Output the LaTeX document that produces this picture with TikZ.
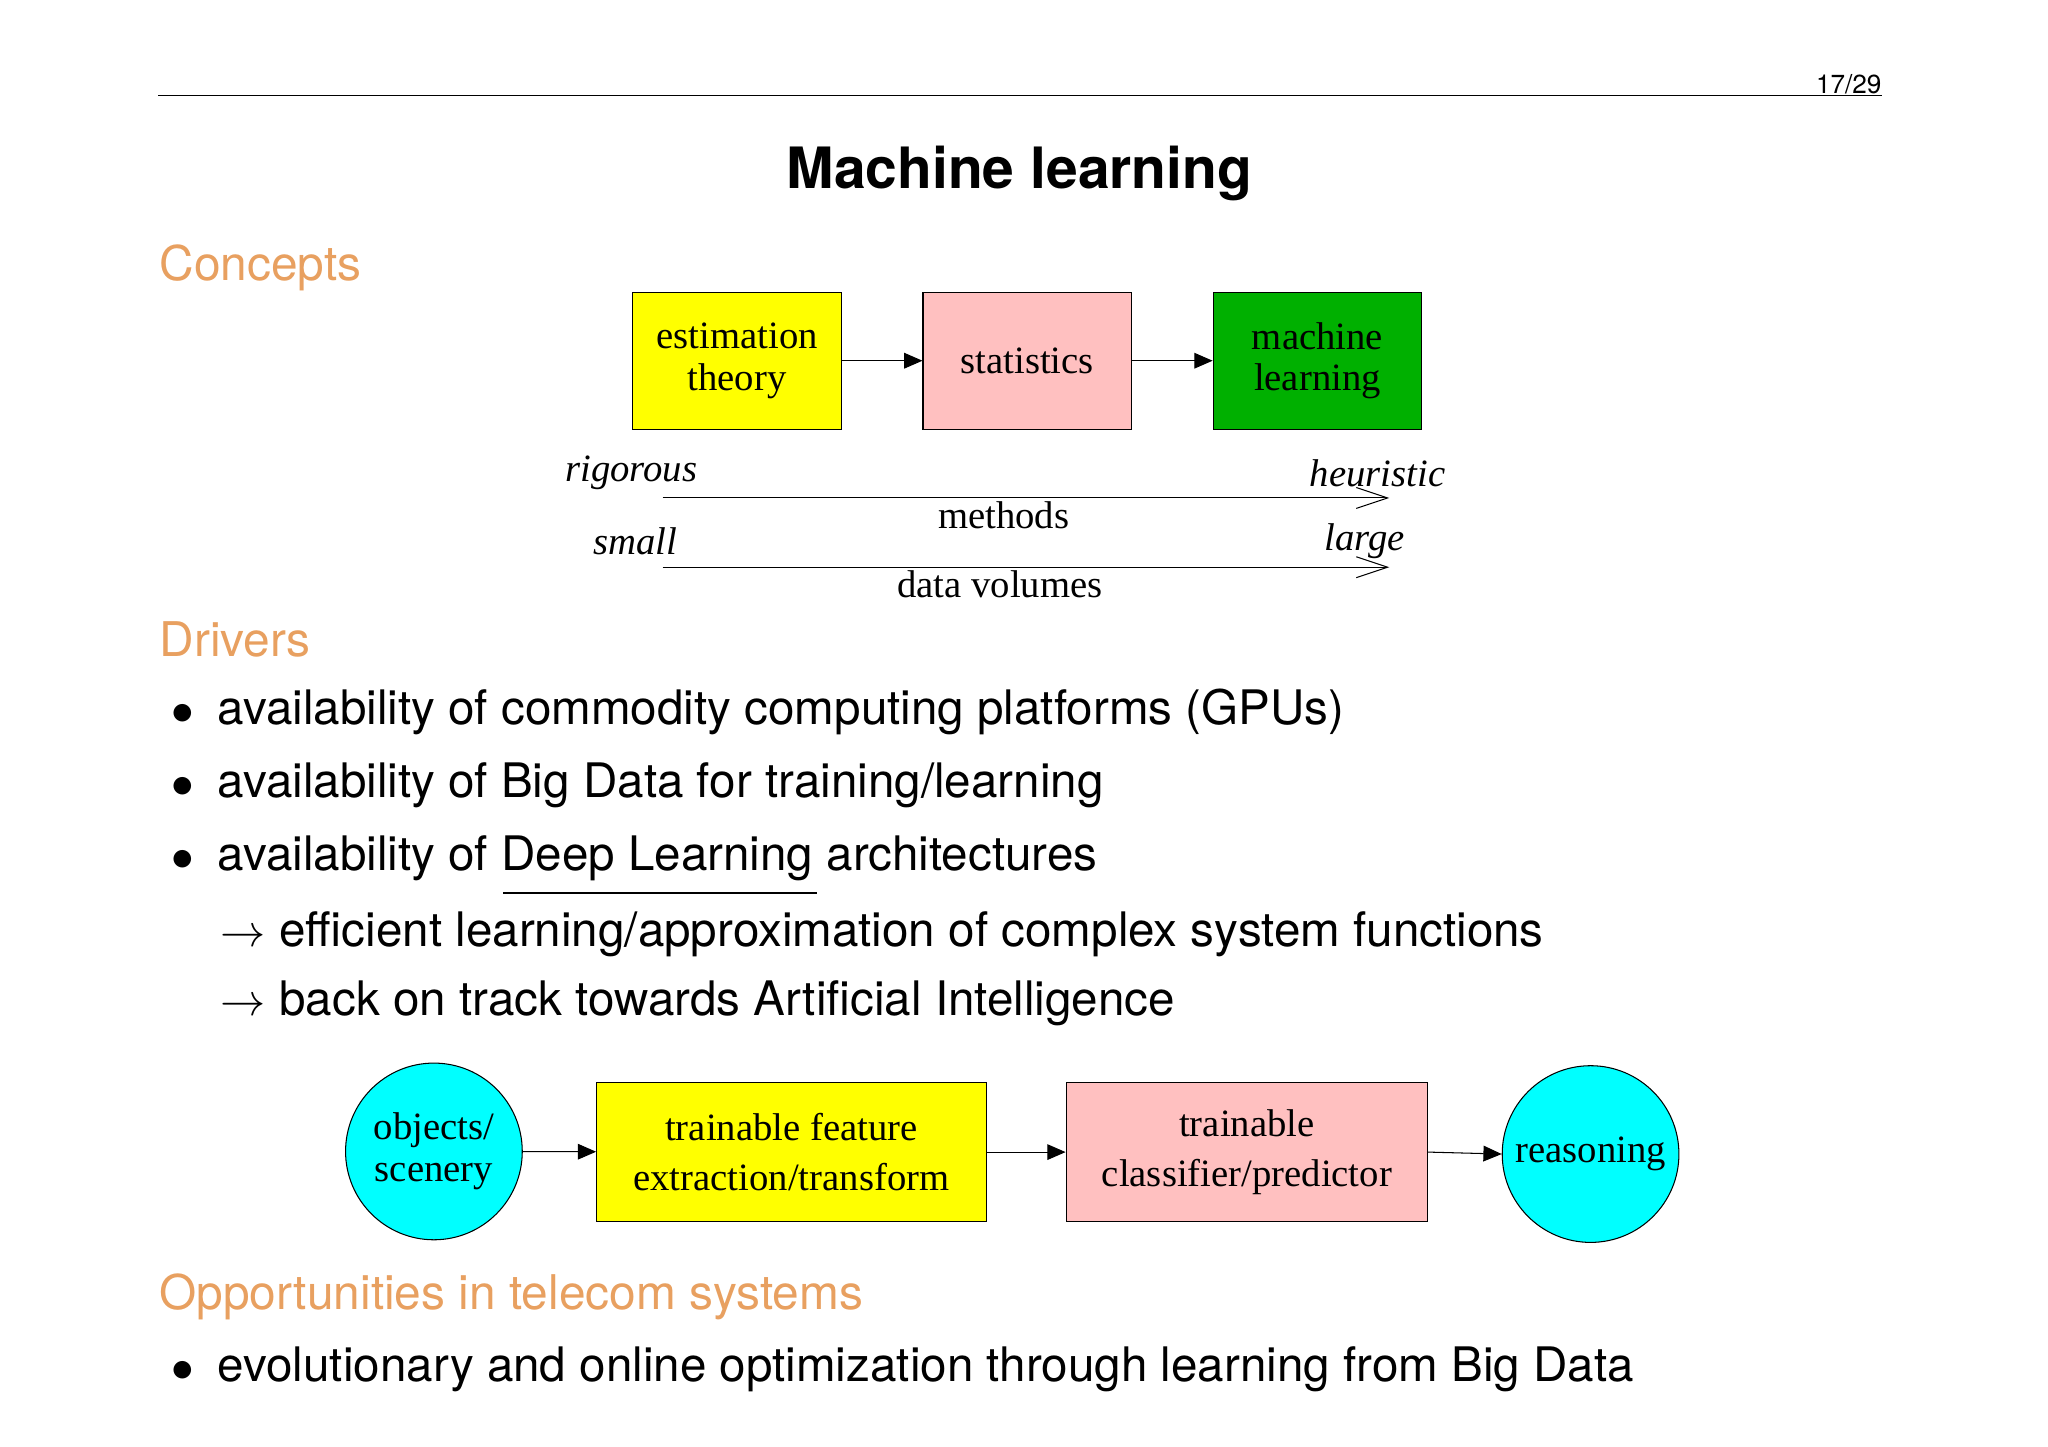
\documentclass[tikz,border=0pt]{standalone}
\usepackage{fontspec}
\setmainfont{TeX Gyre Heros}
\newfontfamily\tms{Liberation Serif}
\usetikzlibrary{arrows.meta}
\definecolor{sec}{HTML}{E8A060}
\definecolor{pinkb}{HTML}{FFC0C0}
\definecolor{greenb}{HTML}{00B000}
\definecolor{cyanb}{HTML}{00FFFF}
\definecolor{yelb}{HTML}{FFFF00}
\begin{document}
\begin{tikzpicture}[x=0.5pt,y=-0.5pt,
  box/.style={draw,minimum width=79.8pt,minimum height=52.5pt,font=\tms\fontsize{14.8}{16}\selectfont,align=center,inner sep=1pt},
  bbox/.style={draw,minimum height=53pt,font=\tms\fontsize{14.8}{19}\selectfont,align=center},
  circ/.style={draw,circle,fill=cyanb,minimum size=67.6pt,inner sep=0pt,font=\tms\fontsize{14.8}{16}\selectfont,align=center},
  sect/.style={anchor=west,text=sec,font=\fontsize{18.3}{20}\selectfont},
  body/.style={anchor=west,font=\fontsize{18.2}{20}\selectfont},
  it/.style={font=\tms\itshape\fontsize{14.8}{16}\selectfont},
  rm/.style={font=\tms\fontsize{14.8}{16}\selectfont},
  arr/.style={-{Triangle[length=7pt,width=6pt]}},
  oarr/.style={-{Straight Barb[length=12pt,width=8pt]}}]
\useasboundingbox (0,0) rectangle (1567,1107);
\coordinate (l1) at (121,73); \coordinate (l2) at (1440,73);
\draw[line width=0.5pt] (l1) -- (l2);
\node[anchor=south east,inner sep=0pt,font=\fontsize{10}{12}\selectfont] (pg) at (1440,72) {17/29};
\node[font=\bfseries\fontsize{21.8}{26}\selectfont] (title) at (780,133) {Machine learning};
\node[sect] (c) at (115,205) {Concepts};
\node[box,fill=yelb] (e) at (564,276) {estimation\\ theory};
\node[box,fill=pinkb] (s) at (786,276) {statistics};
\node[box,fill=greenb] (m) at (1008,276) {machine\\ learning};
\draw[arr] (e) -- (s); \draw[arr] (s) -- (m);
\node[it] (rig) at (483,362) {rigorous};
\node[it] (heu) at (1054,362) {heuristic};
\coordinate (a1) at (507,381); \coordinate (a2) at (1063,381);
\draw[oarr] (a1) -- (a2);
\node[rm] (meth) at (768,394) {methods};
\node[it] (sm) at (486,414) {small};
\node[it] (lg) at (1044,414) {large};
\coordinate (b1) at (507,434); \coordinate (b2) at (1063,434);
\draw[oarr] (b1) -- (b2);
\node[rm] (dv) at (765,447) {data volumes};
\node[sect] (d) at (115,489) {Drivers};
\node[body] (i1) at (124,545) {$\bullet$\enspace availability of commodity computing platforms (GPUs)};
\node[body] (i2) at (124,601) {$\bullet$\enspace availability of Big Data for training/learning};
\node[body] (i3) at (124,657) {$\bullet$\enspace availability of Deep Learning architectures};
\coordinate (u1) at (385,683); \coordinate (u2) at (625,683);
\draw[line width=0.8pt] (u1) -- (u2);
\node[body] (j1) at (162,715) {$\rightarrow$ efficient learning/approximation of complex system functions};
\node[body] (j2) at (162,768) {$\rightarrow$ back on track towards Artificial Intelligence};
\node[circ] (o) at (332,881) {objects/\\ scenery};
\node[bbox,fill=yelb,minimum width=149pt] (f) at (605.5,881.5) {trainable feature\\ extraction/transform};
\node[bbox,fill=pinkb,minimum width=138.3pt] (p) at (954,881.5) {trainable\\ classifier/predictor};
\node[circ] (r) at (1217,883) {reasoning};
\draw[arr] (o) -- (f); \draw[arr] (f) -- (p); \draw[arr] (p.east) -- (r.west);
\node[sect] (op) at (115,992) {Opportunities in telecom systems};
\node[body] (k1) at (124,1048) {$\bullet$\enspace evolutionary and online optimization through learning from Big Data};
\end{tikzpicture}
\end{document}
